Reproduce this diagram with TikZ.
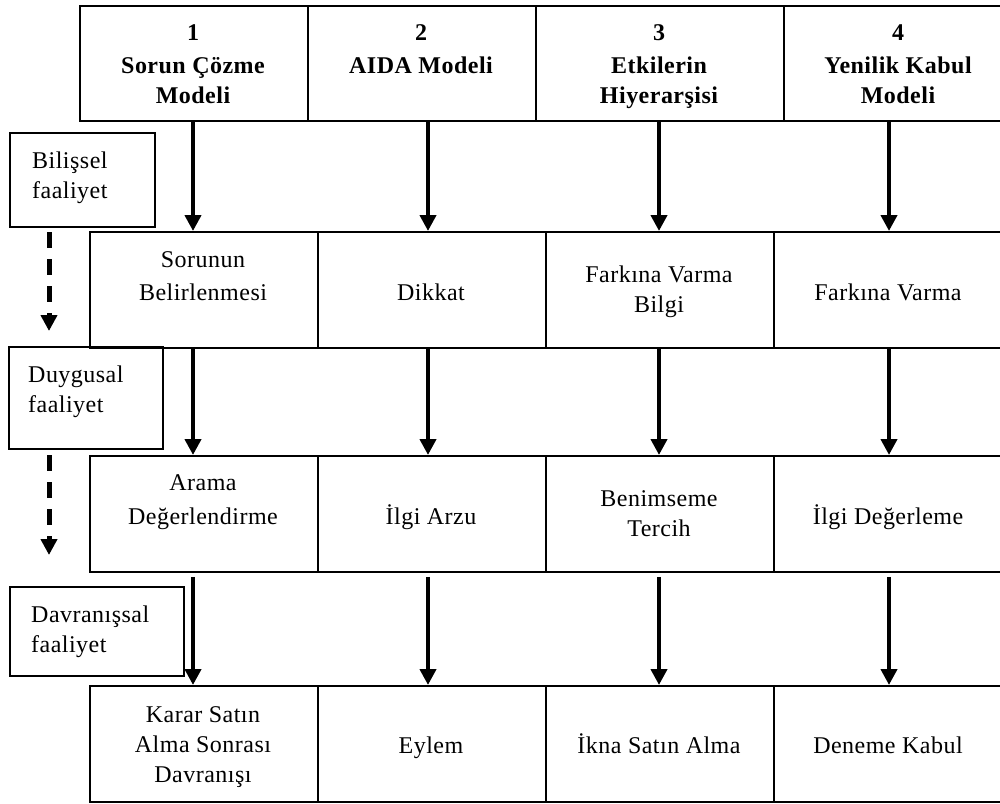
\documentclass[tikz,border=0pt]{standalone}
\usepackage{fontspec}
\setmainfont{Liberation Serif}[LetterSpace=2.0]
\usetikzlibrary{arrows.meta}
\newcommand\cellc[1]{\begin{tabular}[t]{@{}c@{}}#1\end{tabular}}
\newcommand\celll[1]{\begin{tabular}[t]{@{}l@{}}#1\end{tabular}}
\begin{document}
\begin{tikzpicture}[x=1pt,y=-1pt,
  box/.style={draw, line width=1.8pt, rectangle, inner sep=0pt, anchor=north west, minimum height=116pt},
  txt/.style={inner sep=0pt, anchor=base, font=\fontsize{24}{30}\selectfont},
  hdr/.style={txt, font=\fontsize{24}{30}\selectfont\bfseries},
  lbl/.style={inner sep=0pt, anchor=base west, font=\fontsize{24}{30}\selectfont},
  arr/.style={line width=4.3pt, -{Triangle[length=16pt,width=16pt]}},
  darr/.style={line width=5pt, dash pattern=on 16pt off 11pt, -{Triangle[length=16pt,width=16pt]}}
]
\useasboundingbox (0,0) rectangle (1000,803);
\clip (0,0) rectangle (1000,803);

% header cells
\node[box, minimum width=228pt, minimum height=115pt] (h1) at (79,5) {};
\node[box, minimum width=228pt, minimum height=115pt] (h2) at (307,5) {};
\node[box, minimum width=248pt, minimum height=115pt] (h3) at (535,5) {};
\node[box, minimum width=230pt, minimum height=115pt] (h4) at (783,5) {};
\node[hdr] (th1) at (193,40) {\cellc{1\\[3pt]Sorun Çözme\\Modeli}};
\node[hdr] (th2) at (421,40) {\cellc{2\\[3pt]AIDA Modeli}};
\node[hdr] (th3) at (659,40) {\cellc{3\\[3pt]Etkilerin\\Hiyerarşisi}};
\node[hdr] (th4) at (898,40) {\cellc{4\\[3pt]Yenilik Kabul\\Modeli}};

% row 1
\node[box, minimum width=228pt] (r1a) at (89,231) {};
\node[box, minimum width=228pt] (r1b) at (317,231) {};
\node[box, minimum width=228pt] (r1c) at (545,231) {};
\node[box, minimum width=230pt] (r1d) at (773,231) {};
\node[txt] (t1a) at (203,267) {\cellc{Sorunun\\[3pt]Belirlenmesi}};
\node[txt] (t1b) at (431,300) {Dikkat};
\node[txt] (t1c) at (659,282) {\cellc{Farkına Varma\\Bilgi}};
\node[txt] (t1d) at (888,300) {Farkına Varma};

% row 2
\node[box, minimum width=228pt] (r2a) at (89,455) {};
\node[box, minimum width=228pt] (r2b) at (317,455) {};
\node[box, minimum width=228pt] (r2c) at (545,455) {};
\node[box, minimum width=230pt] (r2d) at (773,455) {};
\node[txt] (t2a) at (203,490) {\cellc{Arama\\[4pt]Değerlendirme}};
\node[txt] (t2b) at (431,524) {İlgi Arzu};
\node[txt] (t2c) at (659,506) {\cellc{Benimseme\\Tercih}};
\node[txt] (t2d) at (888,524) {İlgi Değerleme};

% row 3
\node[box, minimum width=228pt] (r3a) at (89,685) {};
\node[box, minimum width=228pt] (r3b) at (317,685) {};
\node[box, minimum width=228pt] (r3c) at (545,685) {};
\node[box, minimum width=230pt] (r3d) at (773,685) {};
\node[txt] (t3a) at (203,722) {\cellc{Karar Satın\\Alma Sonrası\\Davranışı}};
\node[txt] (t3b) at (431,753) {Eylem};
\node[txt] (t3c) at (659,753) {İkna Satın Alma};
\node[txt] (t3d) at (888,753) {Deneme Kabul};

% left labels
\node[box, minimum width=145pt, minimum height=94pt] (lb1) at (9,132) {};
\node[box, minimum width=154pt, minimum height=102pt] (lb2) at (8,346) {};
\node[box, minimum width=174pt, minimum height=89pt] (lb3) at (9,586) {};
\node[lbl] (tl1) at (32,168) {\celll{Bilişsel\\faaliyet}};
\node[lbl] (tl2) at (28,382) {\celll{Duygusal\\faaliyet}};
\node[lbl] (tl3) at (31,622) {\celll{Davranışsal\\faaliyet}};

% arrow columns
\coordinate (c1) at (193,0);
\coordinate (c2) at (428,0);
\coordinate (c3) at (659,0);
\coordinate (c4) at (889,0);

\draw[arr] (h1.south -| c1) -- (r1a.north -| c1);
\draw[arr] (h2.south -| c2) -- (r1b.north -| c2);
\draw[arr] (h3.south -| c3) -- (r1c.north -| c3);
\draw[arr] (h4.south -| c4) -- (r1d.north -| c4);

\draw[arr] (r1a.south -| c1) -- (r2a.north -| c1);
\draw[arr] (r1b.south -| c2) -- (r2b.north -| c2);
\draw[arr] (r1c.south -| c3) -- (r2c.north -| c3);
\draw[arr] (r1d.south -| c4) -- (r2d.north -| c4);

\draw[arr] ([yshift=-4pt]r2a.south -| c1) -- (r3a.north -| c1);
\draw[arr] ([yshift=-4pt]r2b.south -| c2) -- (r3b.north -| c2);
\draw[arr] ([yshift=-4pt]r2c.south -| c3) -- (r3c.north -| c3);
\draw[arr] ([yshift=-4pt]r2d.south -| c4) -- (r3d.north -| c4);

% dashed arrows
\coordinate (d1s) at (49,232);
\coordinate (d1e) at (49,331);
\coordinate (d2s) at (49,455);
\coordinate (d2e) at (49,555);
\draw[darr] (d1s) -- (d1e);
\draw[darr] (d2s) -- (d2e);
\end{tikzpicture}
\end{document}
